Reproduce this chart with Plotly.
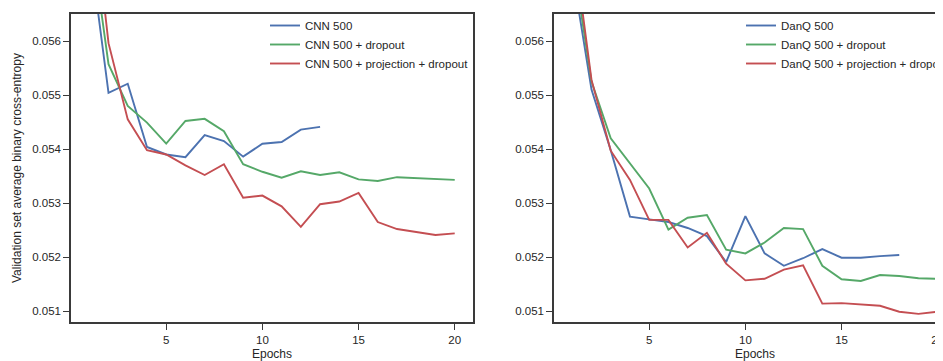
import plotly.graph_objects as go

epochs = list(range(1, 21))

cnn_names = ["CNN 500", "CNN 500 + dropout", "CNN 500 + projection + dropout"]
cnn_500 = [0.05779, 0.05504, 0.05521, 0.05404, 0.05390, 0.05385, 0.05426, 0.05415,
           0.05386, 0.05410, 0.05413, 0.05436, 0.05441]
cnn_500_dropout = [0.05816, 0.05557, 0.05480, 0.05449, 0.05410, 0.05452, 0.05456, 0.05433,
                   0.05372, 0.05358, 0.05347, 0.05359, 0.05352, 0.05357, 0.05344, 0.05341,
                   0.05348, 0.05346, 0.05344, 0.05343]
cnn_500_proj_dropout = [0.05913, 0.05596, 0.05455, 0.05398, 0.05390, 0.05370, 0.05352, 0.05372,
                        0.05310, 0.05314, 0.05294, 0.05256, 0.05298, 0.05303, 0.05319, 0.05265,
                        0.05252, 0.05246, 0.05241, 0.05244]

danq_names = ["DanQ 500", "DanQ 500 + dropout", "DanQ 500 + projection + dropout"]
danq_500 = [0.05731, 0.05510, 0.05398, 0.05275, 0.05270, 0.05265, 0.05254, 0.05239,
            0.05191, 0.05276, 0.05207, 0.05184, 0.05198, 0.05215, 0.05199, 0.05199,
            0.05202, 0.05204]
danq_500_dropout = [0.05760, 0.05525, 0.05420, 0.05373, 0.05327, 0.05251, 0.05273, 0.05278,
                    0.05214, 0.05207, 0.05227, 0.05254, 0.05252, 0.05184, 0.05159, 0.05156,
                    0.05167, 0.05165, 0.05161, 0.05160]
danq_500_proj_dropout = [0.05798, 0.05528, 0.05397, 0.05343, 0.05269, 0.05269, 0.05218, 0.05245,
                         0.05188, 0.05157, 0.05160, 0.05177, 0.05185, 0.05114, 0.05115, 0.05113,
                         0.05110, 0.05099, 0.05095, 0.05099]

y_ticks = [0.051, 0.052, 0.053, 0.054, 0.055, 0.056]
x_ticks = [5, 10, 15, 20]
y_title = "Validation set average binary cross-entropy"
x_title = "Epochs"

colors = ["#4C72B0", "#55A868", "#C44E52"]
FONT = "Liberation Sans, Arial, sans-serif"
TXT = "#262626"
SPINE = "#3a3a3a"

W, H = 943, 361
OFF = 8  # page body margin offset


def px(x):
    return (x - OFF) / W


def py(y):
    return 1 - (y - OFF) / H


fig = go.Figure()

left_series = [cnn_500, cnn_500_dropout, cnn_500_proj_dropout]
right_series = [danq_500, danq_500_dropout, danq_500_proj_dropout]
for name, vals, c in zip(cnn_names, left_series, colors):
    fig.add_trace(go.Scatter(x=epochs[:len(vals)], y=vals, mode="lines", name=name,
                             line=dict(color=c, width=1.9), xaxis="x", yaxis="y",
                             legend="legend"))
for name, vals, c in zip(danq_names, right_series, colors):
    fig.add_trace(go.Scatter(x=epochs[:len(vals)], y=vals, mode="lines", name=name,
                             line=dict(color=c, width=1.9), xaxis="x2", yaxis="y2",
                             legend="legend2"))

axis_common = dict(showgrid=False, zeroline=False, showline=True, linecolor=SPINE,
                   linewidth=1.5, ticks="outside", ticklen=6, tickwidth=1.25,
                   tickcolor=SPINE, tickfont=dict(family=FONT, size=11.5, color=TXT))

ydom = [py(322), py(14)]
right_end_page = OFF + W
fig.update_layout(
    width=W, height=H,
    margin=dict(l=0, r=0, t=0, b=0, autoexpand=False),
    paper_bgcolor="white", plot_bgcolor="white",
    font=dict(family=FONT, size=11.5, color=TXT),
    xaxis=dict(domain=[px(71), px(473)], range=[0.05, 20.95], tickvals=x_ticks,
               mirror=True, anchor="y", **axis_common),
    yaxis=dict(domain=ydom, range=[0.0508, 0.0565], tickvals=y_ticks, tickformat=".3f",
               mirror=True, anchor="x", **axis_common),
    xaxis2=dict(domain=[px(554), 1.0],
                range=[0.05, 20.95 - (956 - right_end_page) / 19.27],
                tickvals=x_ticks, mirror=True, anchor="y2", **axis_common),
    yaxis2=dict(domain=ydom, range=[0.0508, 0.0565], tickvals=y_ticks, tickformat=".3f",
                mirror=False, anchor="x2", **axis_common),
    legend=dict(x=px(265), y=py(11), xanchor="left", yanchor="top",
                bgcolor="rgba(0,0,0,0)", font=dict(family=FONT, size=11.5, color=TXT)),
    legend2=dict(x=px(741), y=py(11), xanchor="left", yanchor="top",
                 bgcolor="rgba(0,0,0,0)", font=dict(family=FONT, size=11.5, color=TXT)),
    showlegend=True,
)

fig.add_annotation(text=x_title, x=px(272), y=py(354), xref="paper", yref="paper",
                   showarrow=False, font=dict(family=FONT, size=12, color=TXT),
                   xanchor="center", yanchor="middle")
fig.add_annotation(text=x_title, x=px(755), y=py(354), xref="paper", yref="paper",
                   showarrow=False, font=dict(family=FONT, size=12, color=TXT),
                   xanchor="center", yanchor="middle")
fig.add_annotation(text=y_title, x=px(17), y=py(168), xref="paper", yref="paper",
                   showarrow=False, textangle=-90, font=dict(family=FONT, size=12, color=TXT),
                   xanchor="center", yanchor="middle")

fig.write_html("out.html")
